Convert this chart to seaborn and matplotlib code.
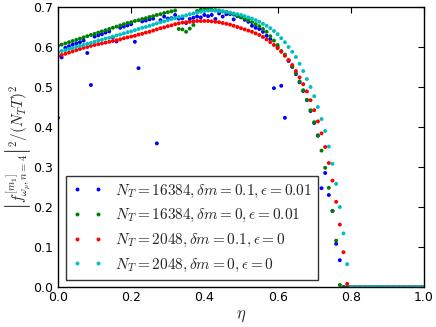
import numpy as np
import pandas as pd
import matplotlib
matplotlib.use("Agg")
import matplotlib.pyplot as plt
import seaborn as sns

# eta grid, 0.00 .. 1.00 in steps of 0.01
eta = np.round(np.arange(101) * 0.01, 2)

# values for eta = 0.00 .. 0.80, all series are zero beyond that
tail = [0.0, 0.0, 0.0, 0.0, 0.0, 0.0, 0.0, 0.0, 0.0, 0.0,
        0.0, 0.0, 0.0, 0.0, 0.0, 0.0, 0.0, 0.0, 0.0, 0.0]

blue_vals = [0.423, 0.574, 0.598, 0.602, 0.606, 0.609, 0.612, 0.616, 0.585, 0.505,
             0.626, 0.629, 0.632, 0.636, 0.639, 0.624, 0.614, 0.648, 0.651, 0.654,
             0.657, 0.613, 0.547, 0.664, 0.666, 0.669, 0.671, 0.359, 0.667, 0.676,
             0.671, 0.672, 0.680, 0.671, 0.672, 0.660, 0.670, 0.673, 0.676, 0.674,
             0.680, 0.677, 0.680, 0.670, 0.684, 0.676, 0.682, 0.682, 0.669, 0.677,
             0.674, 0.668, 0.663, 0.653, 0.648, 0.645, 0.638, 0.628, 0.620, 0.497,
             0.600, 0.503, 0.423, 0.565, 0.550, 0.532, 0.512, 0.490, 0.467, 0.440,
             0.410, 0.379, 0.247, 0.285, 0.230, 0.190, 0.108, 0.067, 0.000, 0.000,
             0.000] + tail

green_vals = [0.603, 0.606, 0.609, 0.612, 0.615, 0.618, 0.621, 0.624, 0.627, 0.630,
              0.633, 0.636, 0.639, 0.642, 0.645, 0.648, 0.651, 0.654, 0.657, 0.660,
              0.662, 0.665, 0.667, 0.670, 0.672, 0.675, 0.677, 0.680, 0.682, 0.685,
              0.687, 0.689, 0.691, 0.645, 0.644, 0.638, 0.646, 0.655, 0.690, 0.693,
              0.694, 0.694, 0.693, 0.692, 0.691, 0.689, 0.687, 0.684, 0.681, 0.678,
              0.675, 0.671, 0.667, 0.662, 0.657, 0.652, 0.645, 0.638, 0.627, 0.616,
              0.605, 0.590, 0.581, 0.567, 0.551, 0.534, 0.514, 0.492, 0.468, 0.442,
              0.412, 0.378, 0.341, 0.298, 0.248, 0.190, 0.116, 0.005, 0.000, 0.000,
              0.000] + tail

red_vals = [0.577, 0.580, 0.583, 0.586, 0.589, 0.592, 0.595, 0.598, 0.600, 0.603,
            0.605, 0.607, 0.609, 0.611, 0.613, 0.615, 0.617, 0.619, 0.622, 0.624,
            0.626, 0.628, 0.631, 0.633, 0.636, 0.638, 0.641, 0.644, 0.647, 0.649,
            0.652, 0.654, 0.657, 0.659, 0.661, 0.662, 0.663, 0.664, 0.665, 0.665,
            0.665, 0.665, 0.664, 0.663, 0.662, 0.660, 0.658, 0.656, 0.653, 0.650,
            0.647, 0.644, 0.641, 0.638, 0.634, 0.630, 0.625, 0.619, 0.612, 0.605,
            0.597, 0.588, 0.578, 0.567, 0.555, 0.540, 0.524, 0.507, 0.489, 0.467,
            0.442, 0.414, 0.384, 0.350, 0.310, 0.266, 0.213, 0.156, 0.087, 0.008,
            0.000] + tail

cyan_vals = [0.587, 0.590, 0.592, 0.595, 0.597, 0.600, 0.603, 0.605, 0.608, 0.610,
             0.613, 0.616, 0.618, 0.621, 0.623, 0.626, 0.629, 0.631, 0.634, 0.637,
             0.639, 0.642, 0.645, 0.648, 0.650, 0.653, 0.656, 0.659, 0.662, 0.664,
             0.667, 0.670, 0.672, 0.675, 0.677, 0.679, 0.682, 0.684, 0.686, 0.688,
             0.690, 0.691, 0.691, 0.691, 0.690, 0.689, 0.688, 0.686, 0.684, 0.682,
             0.680, 0.677, 0.674, 0.671, 0.667, 0.663, 0.658, 0.653, 0.647, 0.640,
             0.632, 0.622, 0.612, 0.600, 0.588, 0.575, 0.558, 0.540, 0.520, 0.500,
             0.477, 0.450, 0.420, 0.390, 0.351, 0.308, 0.258, 0.200, 0.134, 0.057,
             0.000] + tail

labels = [r"$N_T=16384,\delta m=0.1,\epsilon=0.01$",
          r"$N_T=16384,\delta m=0,\epsilon=0.01$",
          r"$N_T=2048,\delta m=0.1,\epsilon=0$",
          r"$N_T=2048,\delta m=0,\epsilon=0$"]
colors = ["#0000ff", "#008000", "#ff0000", "#00bfbf"]

df = pd.concat([
    pd.DataFrame({"eta": eta, "val": v, "series": lab})
    for v, lab in zip([blue_vals, green_vals, red_vals, cyan_vals], labels)
])

sns.set_style("white")
plt.rcParams["mathtext.fontset"] = "cm"
plt.rcParams["font.family"] = ["DejaVu Sans"]

fig = plt.figure(figsize=(4.36, 3.27), dpi=100)
ax = fig.add_axes([58 / 436, 40 / 327, 366 / 436, 280 / 327])

sns.scatterplot(data=df, x="eta", y="val", hue="series", hue_order=labels,
                palette=colors, s=8, linewidth=0, marker="o", ax=ax)

ax.set_xlim(0, 1.0)
ax.set_ylim(0, 0.7)
ax.set_xticks([0.0, 0.2, 0.4, 0.6, 0.8, 1.0])
ax.set_yticks([0.0, 0.1, 0.2, 0.3, 0.4, 0.5, 0.6, 0.7])
ax.tick_params(direction="in", top=True, right=True, length=4, width=0.8,
               labelsize=9, colors="black")
ax.tick_params(axis="x", pad=3)
for sp in ax.spines.values():
    sp.set_color("black")
    sp.set_linewidth(1.0)

ax.set_xlabel(r"$\eta$", fontsize=12, labelpad=1)
ax.set_ylabel(r"$\left|f^{[m_1]}_{\omega_p,n=4}\right|^2/(N_T T)^2$", fontsize=11, labelpad=0)

handles, labs = ax.get_legend_handles_labels()
leg = ax.legend(handles, labs, loc="lower left", bbox_to_anchor=(0.022, 0.025),
                borderaxespad=0, numpoints=2, scatterpoints=2, fontsize=11,
                frameon=True, fancybox=False, edgecolor="black",
                handletextpad=0.8, labelspacing=0.5, markerscale=1.0)
leg.get_frame().set_linewidth(1.0)

fig.savefig("out.png", dpi=100)
plt.close(fig)
